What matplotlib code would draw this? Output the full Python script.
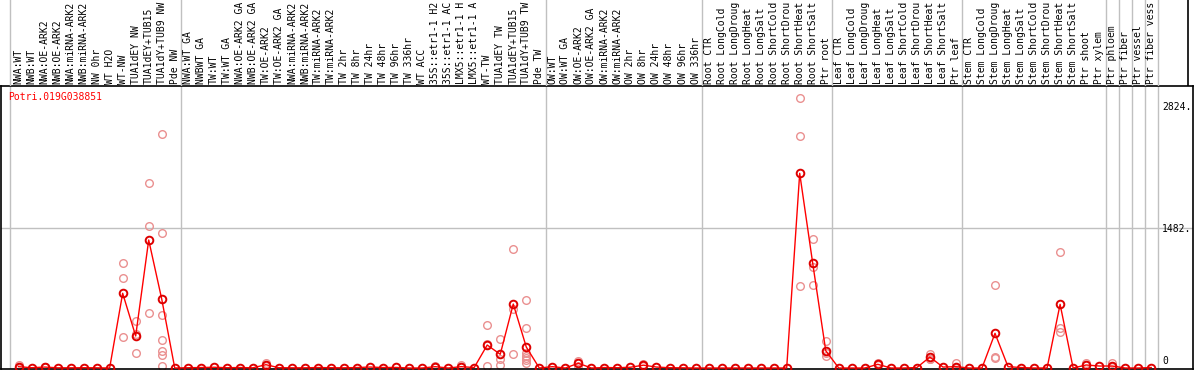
import matplotlib
matplotlib.use("Agg")
import matplotlib.pyplot as plt

# column labels as they appear (truncated to 14 characters in the reference)
categories = [
    "NWA:WT", "NWB:WT", "NWA:OE-ARK2", "NWB:OE-ARK2", "NWA:miRNA-ARK2", "NWB:miRNA-ARK2",
    "NW 0hr", "WT H2O", "WT-NW", "TUA1dEY NW", "TUA1dEY+TUB15", "TUA1dY+TUB9 NW", "Pde NW",
    "NWA:WT GA", "NWBWT GA", "TW:WT", "TW:WT GA", "NWA:OE-ARK2 GA", "NWB:OE-ARK2 GA",
    "TW:OE-ARK2", "TW:OE-ARK2 GA", "NWA:miRNA-ARK2", "NWB:miRNA-ARK2", "TW:miRNA-ARK2",
    "TW:miRNA-ARK2", "TW 2hr", "TW 8hr", "TW 24hr", "TW 48hr", "TW 96hr", "TW 336hr",
    "WT ACC", "35S::etr1-1 H2", "35S::etr1-1 AC", "LMX5::etr1-1 H", "LMX5::etr1-1 A",
    "WT-TW", "TUA1dEY TW", "TUA1dEY+TUB15", "TUA1dY+TUB9 TW", "Pde TW",
    "OW:WT", "OW:WT GA", "OW:OE-ARK2", "OW:OE-ARK2 GA", "OW:miRNA-ARK2", "OW:miRNA-ARK2",
    "OW 2hr", "OW 8hr", "OW 24hr", "OW 48hr", "OW 96hr", "OW 336hr",
    "Root CTR", "Root LongCold", "Root LongDroug", "Root LongHeat", "Root LongSalt",
    "Root ShortCold", "Root ShortDrou", "Root ShortHeat", "Root ShortSalt", "Ptr root",
    "Leaf CTR", "Leaf LongCold", "Leaf LongDroug", "Leaf LongHeat", "Leaf LongSalt",
    "Leaf ShortCold", "Leaf ShortDrou", "Leaf ShortHeat", "Leaf ShortSalt", "Ptr leaf",
    "Stem CTR", "Stem LongCold", "Stem LongDroug", "Stem LongHeat", "Stem LongSalt",
    "Stem ShortCold", "Stem ShortDrou", "Stem ShortHeat", "Stem ShortSalt",
    "Ptr shoot", "Ptr xylem", "Ptr phloem", "Ptr fiber", "Ptr vessel", "Ptr fiber vess",
]

mean_values = [
    14, 3, 10, 2, 2, 3, 2, 0, 791, 339, 1355, 730, 0,
    3, 5, 8, 3, 5, 2, 35, 3, 2, 2, 5, 3, 2, 5, 10, 5, 6, 0,
    0, 14, 0, 14, 5, 243, 145, 677, 222, 0,
    14, 0, 50, 0, 5, 3, 8, 30, 10, 3, 2, 0,
    0, 0, 0, 0, 0, 0, 0, 2061, 1108, 183,
    0, 0, 0, 39, 0, 0, 5, 116, 10, 14,
    0, 0, 367, 14, 5, 0, 0, 674, 0, 32, 21, 21, 0, 0, 5,
]

# individual replicate values (index of category -> values)
replicate_values = {
    0: [32, 5, 5], 2: [14, 10], 8: [1108, 949, 325], 9: [501, 156, 360],
    10: [1955, 1503, 579], 11: [2477, 1426, 558, 293, 180, 138, 21],
    19: [50, 25], 32: [14, 20], 34: [32, 10], 36: [455, 21, 253],
    37: [304, 92, 32], 38: [1260, 624, 145], 39: [720, 420, 156, 130, 109, 85, 50],
    43: [77, 50, 25], 48: [45, 20], 60: [2855, 2456, 868], 61: [1365, 1072, 879],
    62: [286, 156, 130], 66: [50, 30], 70: [150, 100, 90], 72: [56, 5],
    75: [879, 120, 102], 80: [1225, 427, 378], 82: [50, 30], 84: [50, 10],
}

group_separators = [-0.65, 12.5, 40.5, 52.5, 62.5, 72.5, 83.5, 84.5, 85.5, 86.5, 87.5]
ytick_values = [2824, 1482, 0]
gene_name = "Potri.019G038851"

W, H = 1194, 370
fig = plt.figure(figsize=(W / 100, H / 100), dpi=100)
mono = "DejaVu Sans Mono"
fs = 7.0

# pixel geometry
x0_px, dx_px = 18.5, 13.02
ax_left, ax_right, ax_top, ax_bot = 1, 1193, 86, 369
zero_px, ref_px, ref_val = 368, 228, 1482
s = (zero_px - ref_px) / ref_val

xlim = ((ax_left - x0_px) / dx_px, (ax_right - x0_px) / dx_px)
ylim = (-(ax_bot - zero_px) / s, (zero_px - ax_top) / s)

ax = fig.add_axes([ax_left / W, (H - ax_bot) / H, (ax_right - ax_left) / W, (ax_bot - ax_top) / H])
ax.set_xlim(*xlim)
ax.set_ylim(*ylim)
ax.set_xticks([])
ax.set_yticks([])
for sp in ax.spines.values():
    sp.set_color("black")
    sp.set_linewidth(1.2)

for xs in group_separators:
    ax.axvline(xs, color="#c0c0c0", lw=1, zorder=0)
ax.axhline(ytick_values[1], color="#c0c0c0", lw=1, zorder=0)

xs_idx = list(range(len(categories)))
for i, vals in replicate_values.items():
    ax.plot([i] * len(vals), vals, linestyle="none", marker="o", markersize=5.5,
            markerfacecolor="none", markeredgecolor="#ea9090", markeredgewidth=1.0,
            zorder=2, clip_on=True)
ax.plot(xs_idx, mean_values, color="#ff0000", lw=1.0, zorder=3)
ax.plot(xs_idx, mean_values, linestyle="none", marker="o", markersize=5.5,
        markerfacecolor="none", markeredgecolor="#dd0000", markeredgewidth=1.4, zorder=4)

# label area
lab = fig.add_axes([ax_left / W, (H - ax_top) / H, (ax_right - ax_left) / W, ax_top / H])
lab.set_xlim(*xlim)
lab.set_ylim(0, ax_top)
lab.axis("off")
for xs in group_separators:
    lab.axvline(xs, color="#c0c0c0", lw=1, zorder=0)
lab.axvline((1188 - x0_px) / dx_px, color="black", lw=1.2)
for i, name in enumerate(categories):
    lab.text(i, 2.5, name, rotation=90, ha="center", va="bottom", family=mono,
             fontsize=fs, color="black", clip_on=True)

fig.text(8 / W, 1 - 97 / H, gene_name, color="red", family=mono, fontsize=fs,
         ha="left", va="center")
tick_px = {2824: 107, 1482: 229, 0: 361}
for v in ytick_values:
    label = "0" if v == 0 else f"{v}."
    fig.text(1162 / W, 1 - tick_px[v] / H, label, family=mono, fontsize=fs,
             ha="left", va="center", color="black")

fig.savefig("out.png", dpi=100)
